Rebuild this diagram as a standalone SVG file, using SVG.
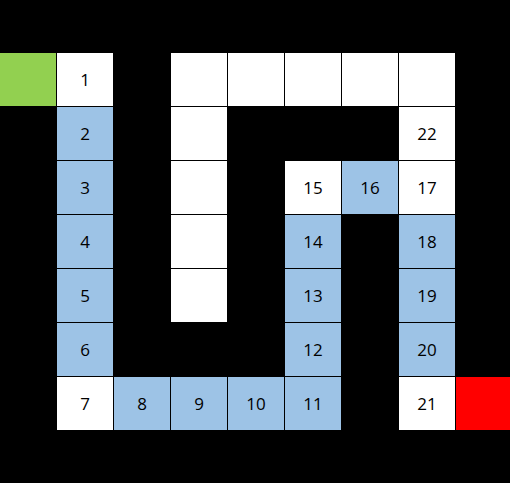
<svg xmlns="http://www.w3.org/2000/svg" width="510" height="483" viewBox="0 0 510 483">
<style>
.w{fill:#ffffff}.b{fill:#9dc3e6}
text{font-family:"Open Sans","Liberation Sans",sans-serif;font-size:17px;fill:#000;text-anchor:middle;dominant-baseline:central}
</style>
<rect width="510" height="483" fill="#000"/>
<g id="start"><rect x="0" y="53" width="56" height="53" fill="#92d050"/></g>
<g id="end"><rect x="456" y="377" width="54" height="53" fill="#ff0000"/></g>
<g id="cells">
<g id="c1"><rect class="w" x="57" y="53" width="56" height="53"/><text x="85" y="79">1</text></g>
<g id="c2"><rect class="b" x="57" y="107" width="56" height="53"/><text x="85" y="133">2</text></g>
<g id="c3"><rect class="b" x="57" y="161" width="56" height="53"/><text x="85" y="187">3</text></g>
<g id="c4"><rect class="b" x="57" y="215" width="56" height="53"/><text x="85" y="241">4</text></g>
<g id="c5"><rect class="b" x="57" y="269" width="56" height="53"/><text x="85" y="295">5</text></g>
<g id="c6"><rect class="b" x="57" y="323" width="56" height="53"/><text x="85" y="349">6</text></g>
<g id="c7"><rect class="w" x="57" y="377" width="56" height="53"/><text x="85" y="403">7</text></g>
<g id="c8"><rect class="b" x="114" y="377" width="56" height="53"/><text x="142" y="403">8</text></g>
<g id="c9"><rect class="b" x="171" y="377" width="56" height="53"/><text x="199" y="403">9</text></g>
<g id="c10"><rect class="b" x="228" y="377" width="56" height="53"/><text x="256" y="403">10</text></g>
<g id="c11"><rect class="b" x="285" y="377" width="56" height="53"/><text x="313" y="403">11</text></g>
<g id="c12"><rect class="b" x="285" y="323" width="56" height="53"/><text x="313" y="349">12</text></g>
<g id="c13"><rect class="b" x="285" y="269" width="56" height="53"/><text x="313" y="295">13</text></g>
<g id="c14"><rect class="b" x="285" y="215" width="56" height="53"/><text x="313" y="241">14</text></g>
<g id="c15"><rect class="w" x="285" y="161" width="56" height="53"/><text x="313" y="187">15</text></g>
<g id="c16"><rect class="b" x="342" y="161" width="56" height="53"/><text x="370" y="187">16</text></g>
<g id="c17"><rect class="w" x="399" y="161" width="56" height="53"/><text x="427" y="187">17</text></g>
<g id="c18"><rect class="b" x="399" y="215" width="56" height="53"/><text x="427" y="241">18</text></g>
<g id="c19"><rect class="b" x="399" y="269" width="56" height="53"/><text x="427" y="295">19</text></g>
<g id="c20"><rect class="b" x="399" y="323" width="56" height="53"/><text x="427" y="349">20</text></g>
<g id="c21"><rect class="w" x="399" y="377" width="56" height="53"/><text x="427" y="403">21</text></g>
<g id="c22"><rect class="w" x="399" y="107" width="56" height="53"/><text x="427" y="133">22</text></g>
</g>
<g id="walls">
<rect class="w" x="171" y="53" width="56" height="53"/>
<rect class="w" x="228" y="53" width="56" height="53"/>
<rect class="w" x="285" y="53" width="56" height="53"/>
<rect class="w" x="342" y="53" width="56" height="53"/>
<rect class="w" x="399" y="53" width="56" height="53"/>
<rect class="w" x="171" y="107" width="56" height="53"/>
<rect class="w" x="171" y="161" width="56" height="53"/>
<rect class="w" x="171" y="215" width="56" height="53"/>
<rect class="w" x="171" y="269" width="56" height="53"/>
</g>
<g id="connectors"/>
</svg>
